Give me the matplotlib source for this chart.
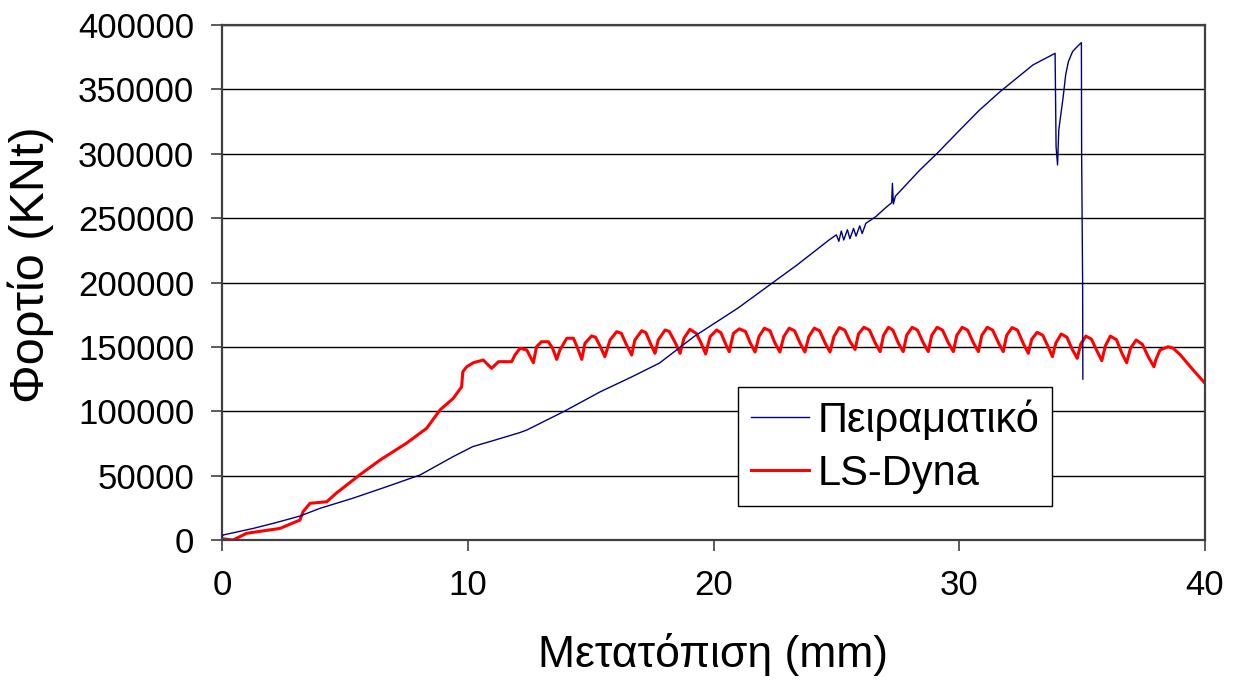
import matplotlib
matplotlib.use('Agg')
import matplotlib.pyplot as plt

plt.rcParams['font.family'] = ['Liberation Sans', 'DejaVu Sans']

# Experimental curve (Πειραματικό)
blue_x = [0.0, 0.05, 1.27, 2.2, 3.17, 3.99, 5.35, 6.7, 8.06, 9.4, 10.2, 11.0, 12.1, 12.4,
          13.9, 15.4, 16.6, 17.8, 19.2, 21.0, 22.6, 23.4, 24.7, 25.0, 25.1, 25.2, 25.3,
          25.45, 25.55, 25.7, 25.8, 25.95, 26.05, 26.2, 26.6, 27.0, 27.25, 27.28, 27.32,
          27.4, 28.4, 29.1, 30.0, 30.8, 31.66, 33.0, 33.9, 33.94, 34.0, 34.05, 34.23,
          34.33, 34.44, 34.61, 34.8, 34.97, 34.98, 35.02, 35.03]
blue_y = [2500, 3900, 9000, 13500, 18600, 24600, 32600, 41400, 50500, 64700, 72500, 77000,
          83300, 85400, 99700, 115200, 126000, 137400, 157900, 180200, 202500, 213600,
          233000, 237000, 232000, 240000, 233000, 241000, 234000, 242000, 236000, 244000,
          238000, 246000, 251100, 258000, 262000, 277000, 261000, 267000, 287400, 300300,
          318000, 333500, 348200, 369000, 378000, 305500, 291300, 318500, 344300, 361200,
          371500, 379300, 383200, 386300, 300000, 200000, 125000]

# LS-Dyna curve
red_x = [0.0, 0.45, 1.0, 2.36, 3.17, 3.3, 3.58, 4.26, 4.67, 5.6, 6.43, 7.5, 8.33, 8.87,
         9.41, 9.75, 9.8, 9.96, 10.23, 10.63, 10.97, 11.25, 11.79, 11.92, 12.13, 12.4,
         12.67, 12.8, 13.0, 13.28, 13.45,
         13.62, 13.75, 14.03, 14.3, 14.45,
         14.64, 14.77, 15.04, 15.2, 15.4,
         15.58, 15.79, 16.06, 16.25, 16.45,
         16.67, 16.8, 17.08, 17.25, 17.45,
         17.62, 17.75, 18.03, 18.2, 18.45,
         18.64, 18.8, 19.04, 19.3, 19.5,
         19.68, 19.86, 20.13, 20.3, 20.5,
         20.64, 20.81, 21.05, 21.3, 21.5,
         21.69, 21.85, 22.07, 22.3, 22.5,
         22.70, 22.86, 23.08, 23.3, 23.52,
         23.72, 23.88, 24.1, 24.32, 24.54,
         24.74, 24.9, 25.12, 25.34, 25.56,
         25.76, 25.9, 26.12, 26.35, 26.58,
         26.78, 26.92, 27.12, 27.3, 27.52,
         27.72, 27.86, 28.08, 28.3, 28.54,
         28.74, 28.88, 29.1, 29.32, 29.56,
         29.76, 29.9, 30.12, 30.34, 30.58,
         30.78, 30.92, 31.14, 31.36, 31.6,
         31.79, 31.93, 32.15, 32.37, 32.62,
         32.81, 32.95, 33.17, 33.4, 33.62,
         33.79, 33.93, 34.15, 34.38, 34.6,
         34.80, 34.94, 35.15, 35.38, 35.6,
         35.80, 35.95, 36.15, 36.4, 36.62,
         36.81, 36.97, 37.2, 37.45, 37.7,
         37.92, 38.0, 38.17, 38.5, 38.7, 39.0, 39.52, 40.0]
red_y = [1000, 0, 5200, 9000, 15500, 22000, 28500, 29700, 36700, 50500, 62100, 75100, 86800,
         101000, 110000, 119000, 130700, 134600, 137700, 139800, 133300, 138500, 138500,
         143700, 148900, 147600,
         137700, 150100, 154000, 154000, 149000,
         140300, 147600, 156700, 156700, 150000,
         140300, 152800, 158500, 157500, 150000,
         142400, 155300, 161800, 160500, 152000,
         143700, 155300, 162600, 161000, 152000,
         145000, 155300, 163100, 162000, 153000,
         145000, 156700, 163600, 160500, 152800,
         144500, 157900, 163100, 161000, 152000,
         146200, 160500, 164000, 162000, 153000,
         146000, 158000, 164500, 162500, 153000,
         146000, 158000, 164500, 162500, 153000,
         146000, 158000, 164500, 162500, 153000,
         146000, 158000, 165000, 163000, 154000,
         148000, 160000, 165200, 163000, 153000,
         146300, 159000, 165200, 163000, 153000,
         146300, 159000, 165200, 163000, 153000,
         146300, 159000, 165200, 163000, 153000,
         146300, 159000, 165200, 163000, 153000,
         146300, 159000, 165200, 163000, 153000,
         146300, 159000, 165000, 163000, 152000,
         145000, 156000, 161300, 159000, 150000,
         142400, 153000, 160000, 157500, 148000,
         141100, 152000, 158400, 156000, 147000,
         139300, 151000, 158400, 155500, 145000,
         137700, 149000, 155300, 152000, 142000,
         134600, 140000, 147600, 150100, 149000, 143700, 132000, 121700]

x_ticks = [0, 10, 20, 30, 40]
y_ticks = [0, 50000, 100000, 150000, 200000, 250000, 300000, 350000, 400000]

fig = plt.figure(figsize=(12.35, 6.84), dpi=100)
ax = fig.add_axes([222 / 1235, 1 - 540 / 684, 983 / 1235, 515 / 684])

ax.plot(blue_x, blue_y, color='#000080', lw=1.0, label='Πειραματικό', zorder=3)
ax.plot(red_x, red_y, color='#ff0000', lw=2.2, label='LS-Dyna', zorder=2)

ax.set_xlim(0, 40)
ax.set_ylim(0, 400000)
ax.set_xticks(x_ticks)
ax.set_yticks(y_ticks)
ax.set_yticklabels([str(v) for v in y_ticks])
ax.yaxis.grid(True, color='black', lw=1.0)
ax.set_axisbelow(True)
ax.tick_params(axis='both', labelsize=25, length=8, width=1.2, color='#404040')
ax.tick_params(axis='x', pad=13)
ax.tick_params(axis='y', pad=12)
for s in ax.spines.values():
    s.set_color('#404040')
    s.set_linewidth(1.6)

ax.set_xlabel('Μετατόπιση (mm)', fontsize=32, labelpad=22)
ax.set_ylabel('Φορτίο (KNt)', fontsize=35)
ax.yaxis.set_label_coords(-0.171, 0.534)

leg = ax.legend(loc='lower left', bbox_to_anchor=(0.525, 0.066), fontsize=30,
                frameon=True, fancybox=False, handlelength=1.4, handletextpad=0.2,
                borderpad=0.3, labelspacing=0.3, borderaxespad=0)
leg.get_frame().set_edgecolor('black')
leg.get_frame().set_linewidth(1.0)
leg.get_frame().set_alpha(1)

plt.savefig('out.png', dpi=100)
